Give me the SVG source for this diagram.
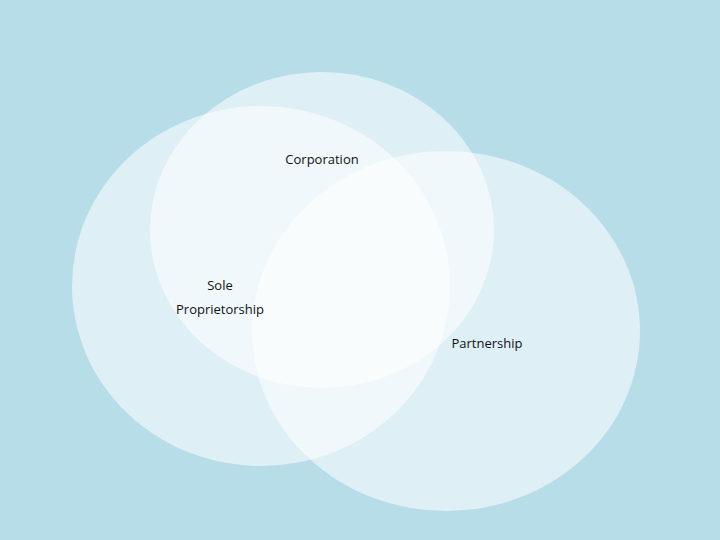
<svg xmlns="http://www.w3.org/2000/svg" width="720" height="540" viewBox="0 0 720 540">
<style>
.c{fill:#ffffff;fill-opacity:0.55}
.t{font-family:"Open Sans","Liberation Sans",sans-serif;font-size:13px;fill:#111111;text-anchor:middle}
</style>
<rect width="720" height="540" fill="#b6dde8"/>
<g id="circles">
<ellipse id="corporation-shape" class="c" cx="322" cy="230" rx="172" ry="158"/>
<ellipse id="sole-proprietorship-shape" class="c" cx="261" cy="286" rx="189" ry="180"/>
<ellipse id="partnership-shape" class="c" cx="446" cy="331" rx="194" ry="180"/>
</g>
<g id="corporation"><text class="t" x="322" y="164">Corporation</text></g>
<g id="sole-proprietorship"><text class="t" x="220" y="290">Sole</text><text class="t" x="220" y="314">Proprietorship</text></g>
<g id="partnership"><text class="t" x="487" y="348">Partnership</text></g>
<g id="connectors"/>
</svg>
